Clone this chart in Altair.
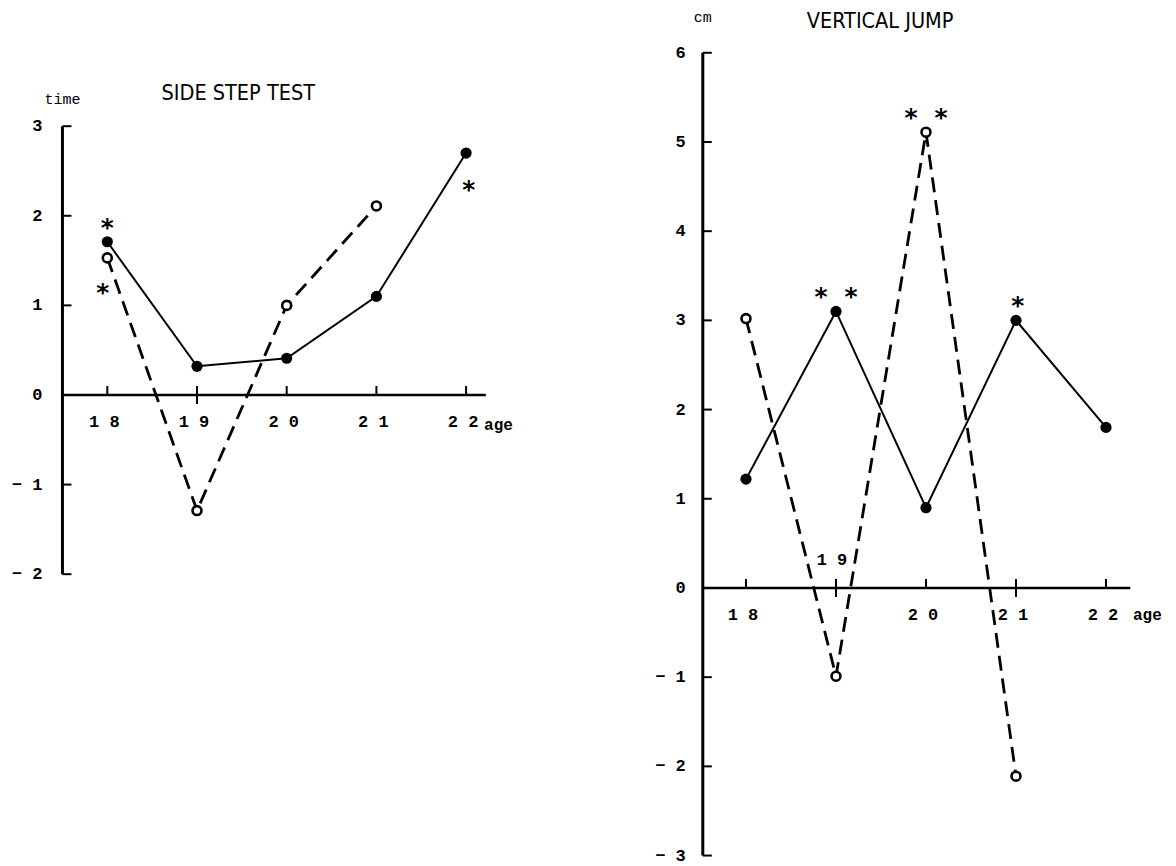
import altair as alt
import pandas as pd

# ---------------- data ----------------
ages = [18, 19, 20, 21, 22]
open_ages = [18, 19, 20, 21]

# SIDE STEP TEST (time)
ss_filled = [1.71, 0.32, 0.41, 1.10, 2.70]
ss_open = [1.53, -1.29, 1.00, 2.11]
ss_yticks = [-2, -1, 0, 1, 2, 3]
ss_ylabels = ["− 2", "− 1", "0", "1", "2", "3"]
ss_xlabels = ["1 8", "1 9", "2 0", "2 1", "2 2"]
ss_xlabel_pos = ["below", "below", "below", "below", "below"]
ss_tick_both = [19]
ss_star_text = ["*", "*", "*"]
ss_star_x = [18.0, 17.95, 22.03]
ss_star_y = [1.93, 1.20, 2.35]

# VERTICAL JUMP (cm)
vj_filled = [1.22, 3.10, 0.90, 3.00, 1.80]
vj_open = [3.02, -0.99, 5.11, -2.11]
vj_yticks = [-3, -2, -1, 0, 1, 2, 3, 4, 5, 6]
vj_ylabels = ["− 3", "− 2", "− 1", "0", "1", "2", "3", "4", "5", "6"]
vj_xlabels = ["1 8", "1 9", "2 0", "2 1", "2 2"]
vj_xlabel_pos = ["below", "above", "below", "below", "below"]
vj_tick_both = [19, 21]
vj_star_text = ["* *", "* *", "*"]
vj_star_x = [19.0, 20.0, 21.02]
vj_star_y = [3.33, 5.34, 3.23]

MONO = "Liberation Mono"
TITLE_FONT = "DejaVu Sans Condensed, DejaVu Sans, sans-serif"


def panel(filled, opn, yticks, ylabels, xlabels, xlabel_pos, tick_both,
          star_text, star_x, star_y, xdom, ydom, x_axis_range, y_axis_range,
          title, title_xy, unit, unit_xy, age_xy, ylab_dx):
    xs = alt.Scale(domain=xdom, nice=False, zero=False)
    ys = alt.Scale(domain=ydom, nice=False, zero=False)

    def X(f):
        return alt.X(f, type="quantitative", scale=xs, axis=None)

    def Y(f):
        return alt.Y(f, type="quantitative", scale=ys, axis=None)

    df_f = pd.DataFrame({"age": ages, "v": filled})
    df_o = pd.DataFrame({"age": open_ages, "v": opn})

    # axes
    yax = alt.Chart(pd.DataFrame({"x": [x_axis_range[0]], "y": [y_axis_range[0]], "y2": [y_axis_range[1]]})).mark_rule(
        color="black", strokeWidth=3).encode(x=X("x"), y=Y("y"), y2="y2:Q")
    xax = alt.Chart(pd.DataFrame({"x": [x_axis_range[0]], "x2": [x_axis_range[1]], "y": [0]})).mark_rule(
        color="black", strokeWidth=2.5).encode(x=X("x"), x2="x2:Q", y=Y("y"))
    df_yt = pd.DataFrame({"x": [x_axis_range[0]] * len(yticks), "y": yticks, "lab": ylabels})
    ytk = alt.Chart(df_yt).mark_rule(color="black", strokeWidth=2, x2Offset=9).encode(
        x=X("x"), x2="x:Q", y=Y("y"))
    ytl = alt.Chart(df_yt).mark_text(align="right", baseline="middle", dx=ylab_dx, font=MONO,
                                     fontWeight="bold", fontSize=17, color="black").encode(
        x=X("x"), y=Y("y"), text="lab:N")
    df_xt = pd.DataFrame({"age": ages, "y": [0] * len(ages), "lab": xlabels, "pos": xlabel_pos})
    xtk_up = alt.Chart(df_xt).mark_rule(color="black", strokeWidth=2, y2Offset=-9).encode(
        x=X("age"), y=Y("y"), y2="y:Q")
    df_tb = pd.DataFrame({"age": tick_both, "y": [0] * len(tick_both)})
    xtk_dn = alt.Chart(df_tb).mark_rule(color="black", strokeWidth=2, y2Offset=9).encode(
        x=X("age"), y=Y("y"), y2="y:Q")
    xtl_b = alt.Chart(df_xt).transform_filter(alt.datum.pos == "below").mark_text(
        align="center", baseline="middle", dy=27, dx=-3, font=MONO, fontWeight="bold",
        fontSize=17, color="black").encode(x=X("age"), y=Y("y"), text="lab:N")
    xtl_a = alt.Chart(df_xt).transform_filter(alt.datum.pos == "above").mark_text(
        align="center", baseline="middle", dy=-28, dx=-4, font=MONO, fontWeight="bold",
        fontSize=17, color="black").encode(x=X("age"), y=Y("y"), text="lab:N")

    # series
    line_f = alt.Chart(df_f).mark_line(color="black", strokeWidth=2).encode(x=X("age"), y=Y("v"))
    line_o = alt.Chart(df_o).mark_line(color="black", strokeWidth=2.8, strokeDash=[15, 8]).encode(
        x=X("age"), y=Y("v"))
    pts_f = alt.Chart(df_f).mark_point(shape="circle", filled=True, color="black", size=125,
                                       opacity=1).encode(x=X("age"), y=Y("v"))
    pts_o = alt.Chart(df_o).mark_point(shape="circle", filled=True, fill="white", stroke="black",
                                       strokeWidth=2.6, size=80, opacity=1).encode(x=X("age"), y=Y("v"))

    # significance stars
    stars = alt.Chart(pd.DataFrame({"x": star_x, "y": star_y, "t": star_text})).mark_text(
        align="center", baseline="middle", font="DejaVu Sans Mono", fontWeight="bold", fontSize=25,
        dy=6, color="black").encode(x=X("x"), y=Y("y"), text="t:N")

    # titles
    ann = pd.DataFrame({
        "x": [title_xy[0], unit_xy[0]], "y": [title_xy[1], unit_xy[1]], "t": [title, unit]})
    ttl = alt.Chart(ann.iloc[[0]]).mark_text(align="center", baseline="middle", font=TITLE_FONT,
                                             fontSize=21.5, color="black").encode(
        x=X("x"), y=Y("y"), text="t:N")
    unt = alt.Chart(ann.iloc[[1]]).mark_text(align="center", baseline="middle", font=MONO,
                                             fontSize=15, color="black").encode(
        x=X("x"), y=Y("y"), text="t:N")
    age = alt.Chart(pd.DataFrame({"x": [age_xy[0]], "y": [age_xy[1]], "t": ["age"]})).mark_text(
        align="left", baseline="middle", font=MONO, fontWeight="bold", fontSize=16, color="black").encode(
        x=X("x"), y=Y("y"), text="t:N")

    return alt.layer(yax, xax, ytk, ytl, xtk_up, xtk_dn, xtl_b, xtl_a,
                     line_o, line_f, pts_f, pts_o, stars, ttl, unt, age)


left = panel(ss_filled, ss_open, ss_yticks, ss_ylabels, ss_xlabels, ss_xlabel_pos, ss_tick_both,
             ss_star_text, ss_star_x, ss_star_y,
             xdom=[16.893, 29.825], ydom=[-5.257, 4.319],
             x_axis_range=[17.5, 22.22], y_axis_range=[-2, 3],
             title="SIDE STEP TEST", title_xy=[19.46, 3.36], unit="time", unit_xy=[17.5, 3.30],
             age_xy=[22.2, -0.33], ylab_dx=-20)

right = panel(vj_filled, vj_open, vj_yticks, vj_ylabels, vj_xlabels, vj_xlabel_pos, vj_tick_both,
              vj_star_text, vj_star_x, vj_star_y,
              xdom=[9.8, 22.689], ydom=[-3.117, 6.502],
              x_axis_range=[17.52, 22.27], y_axis_range=[-3, 6],
              title="VERTICAL JUMP", title_xy=[19.49, 6.35], unit="cm", unit_xy=[17.52, 6.40],
              age_xy=[22.3, -0.30], ylab_dx=-17)

chart = alt.layer(left, right).resolve_scale(x="independent", y="independent").properties(
    width=1160, height=858, autosize=alt.AutoSizeParams(type="none"), padding=0,
    background="white"
).configure_view(stroke=None)

chart.save("out.html", embed_options={"renderer": "svg", "actions": False})
